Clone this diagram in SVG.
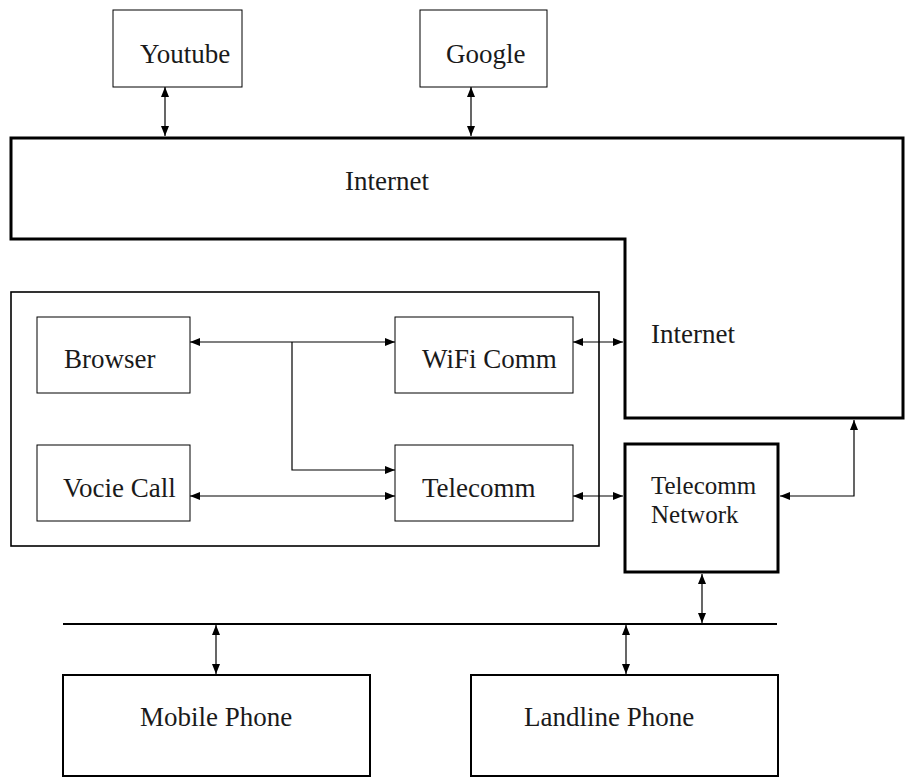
<svg xmlns="http://www.w3.org/2000/svg" width="910" height="778" viewBox="0 0 910 778">
<defs>
<marker id="ah" viewBox="0 0 10 8" refX="10" refY="4" markerWidth="10" markerHeight="8" markerUnits="userSpaceOnUse" orient="auto-start-reverse">
<path d="M0,0 L10,4 L0,8 z" fill="#000"/>
</marker>
</defs>
<style>
text{font-family:'Liberation Serif','DejaVu Serif',serif;font-size:27px;fill:#1a1a1a}
.tn{font-size:25px}
.thin{fill:#fff;stroke:#000;stroke-width:1}
.mid{fill:none;stroke:#000;stroke-width:1.6}
.thick{fill:#fff;stroke:#000;stroke-width:3}
.box2{fill:#fff;stroke:#000;stroke-width:2}
.c{fill:none;stroke:#000;stroke-width:1.2}
.a2{marker-start:url(#ah);marker-end:url(#ah)}
.a1{marker-end:url(#ah)}
</style>
<g id="internet">
<path class="thick" d="M11,138 L903,138 L903,418 L625,418 L625,239 L11,239 Z"/>
<text x="345" y="190">Internet</text>
<text x="651" y="343">Internet</text>
</g>
<g id="youtube"><rect class="thin" x="113" y="10" width="129" height="77"/><text x="140" y="63">Youtube</text></g>
<g id="google"><rect class="thin" x="420" y="10" width="127" height="77"/><text x="446" y="63">Google</text></g>
<g id="device"><rect class="mid" x="11" y="292" width="588" height="254"/></g>
<g id="browser"><rect class="thin" x="37" y="317" width="153" height="76"/><text x="64" y="368">Browser</text></g>
<g id="wifi"><rect class="thin" x="395" y="317" width="178" height="76"/><text x="422" y="368">WiFi Comm</text></g>
<g id="voice"><rect class="thin" x="37" y="445" width="153" height="76"/><text x="63" y="497">Vocie Call</text></g>
<g id="telecomm"><rect class="thin" x="395" y="445" width="178" height="76"/><text x="422" y="497">Telecomm</text></g>
<g id="telnet"><rect class="thick" x="625" y="444" width="153" height="128"/><text class="tn" x="651" y="494">Telecomm</text><text class="tn" x="651" y="523">Network</text></g>
<g id="bus"><line x1="63" y1="624" x2="777" y2="624" stroke="#000" stroke-width="2"/></g>
<g id="mobile"><rect class="box2" x="63" y="675" width="307" height="101"/><text x="140" y="726">Mobile Phone</text></g>
<g id="landline"><rect class="box2" x="471" y="675" width="307" height="101"/><text x="524" y="726">Landline Phone</text></g>
<g id="connectors">
<line class="c a2" x1="165" y1="87" x2="165" y2="136"/>
<line class="c a2" x1="471" y1="87" x2="471" y2="136"/>
<line class="c a2" x1="190" y1="342" x2="395" y2="342"/>
<polyline class="c a1" points="292,342 292,470 395,470"/>
<line class="c a2" x1="190" y1="496" x2="395" y2="496"/>
<line class="c a2" x1="573" y1="342" x2="623" y2="342"/>
<line class="c a2" x1="573" y1="496" x2="623" y2="496"/>
<polyline class="c a2" points="780,496 854,496 854,420"/>
<line class="c a2" x1="702" y1="574" x2="702" y2="623"/>
<line class="c a2" x1="216" y1="625" x2="216" y2="674"/>
<line class="c a2" x1="626" y1="625" x2="626" y2="674"/>
</g>
</svg>
